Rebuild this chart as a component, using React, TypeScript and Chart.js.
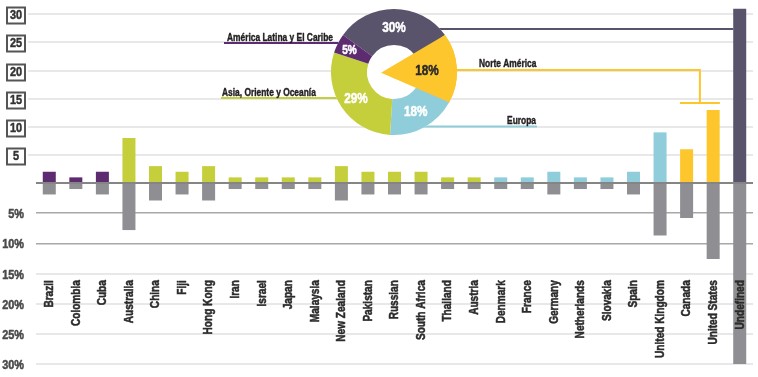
import React, { useEffect, useRef } from 'react';
import { Chart, registerables } from 'chart.js';

Chart.register(...registerables);

// ---------- data ----------
const categories = [
  'Brazil', 'Colombia', 'Cuba', 'Australia', 'China', 'Fiji', 'Hong Kong', 'Iran', 'Israel', 'Japan',
  'Malaysia', 'New Zealand', 'Pakistan', 'Russian', 'South Africa', 'Thailand', 'Austria', 'Denmark',
  'France', 'Germany', 'Netherlands', 'Slovakia', 'Spain', 'United Kingdom', 'Canada', 'United States', 'Undefined',
];
const categoryRegion = [
  'latam', 'latam', 'latam', 'asia', 'asia', 'asia', 'asia', 'asia', 'asia', 'asia',
  'asia', 'asia', 'asia', 'asia', 'asia', 'asia', 'asia', 'europe',
  'europe', 'europe', 'europe', 'europe', 'europe', 'europe', 'na', 'na', 'undef',
];
const countValues = [2, 1, 2, 8, 3, 2, 3, 1, 1, 1, 1, 3, 2, 2, 2, 1, 1, 1, 1, 2, 1, 1, 2, 9, 6, 13, 31];
const percentValues = [1.9, 1.0, 1.9, 7.8, 2.9, 1.9, 2.9, 1.0, 1.0, 1.0, 1.0, 2.9, 1.9, 1.9, 1.9, 1.0, 1.0, 1.0, 1.0, 1.9, 1.0, 1.0, 1.9, 8.7, 5.8, 12.6, 30.1];
const topTickValues = [0, 5, 10, 15, 20, 25, 30];
const bottomTickValues = [5, 10, 15, 20, 25, 30];

const donutRegions = ['undef', 'na', 'europe', 'asia', 'latam'];
const donutLabels = ['Undefined', 'Norte América', 'Europa', 'Asia, Oriente y Oceanía', 'América Latina y El Caribe'];
const donutShares = [30, 18, 18, 29, 5];

// ---------- styles ----------
const COLORS: Record<string, string> = {
  latam: '#5c2b70',
  asia: '#c5cf3b',
  europe: '#8fcdda',
  na: '#fdc62d',
  undef: '#59536c',
};
const GRAY = '#8f8f93';
const FONT = "'Liberation Sans', Arial, sans-serif";
const SQUEEZE = 0.84;
const DONUT_LEFT = 324;
const DONUT_TOP = 2;
const DONUT_SIZE = 140;
const DONUT_CX = DONUT_LEFT + DONUT_SIZE / 2;
const labelRadii = [45, 33, 45, 46, 50];
const labelColors = ['#ffffff', '#2a2a2a', '#ffffff', '#ffffff', '#ffffff'];

function narrowText(
  ctx: CanvasRenderingContext2D,
  text: string,
  x: number,
  y: number,
  size: number,
  color: string,
  align: CanvasTextAlign,
  baseline: CanvasTextBaseline,
  rotate = false,
  heavy = 0.5,
) {
  ctx.save();
  ctx.translate(x, y);
  if (rotate) ctx.rotate(-Math.PI / 2);
  ctx.scale(SQUEEZE, 1);
  ctx.font = `bold ${size}px ${FONT}`;
  ctx.fillStyle = color;
  ctx.strokeStyle = color;
  ctx.lineWidth = heavy;
  ctx.lineJoin = 'round';
  ctx.textAlign = align;
  ctx.textBaseline = baseline;
  ctx.fillText(text, 0, 0);
  if (heavy > 0) ctx.strokeText(text, 0, 0);
  ctx.restore();
}

const overlayPlugin = {
  id: 'overlay',
  afterDraw(chart: any) {
    const ctx = chart.ctx as CanvasRenderingContext2D;
    const { chartArea } = chart;
    const yTop = chart.scales.yTop;
    const yBot = chart.scales.yBot;
    const xs = chart.scales.x;
    const zeroY = yTop.getPixelForValue(0);
    ctx.save();
    // zero line
    ctx.strokeStyle = '#858585';
    ctx.lineWidth = 2;
    ctx.beginPath();
    ctx.moveTo(chartArea.left, zeroY);
    ctx.lineTo(chartArea.right, zeroY);
    ctx.stroke();

    // top tick labels in boxes
    topTickValues.forEach((v) => {
      if (v === 0) return;
      const y = Math.round(yTop.getPixelForValue(v));
      ctx.strokeStyle = '#555555';
      ctx.lineWidth = 2;
      ctx.strokeRect(7, y - 6.5, 18, 16);
      narrowText(ctx, String(v), 16, y + 1.5, 13, '#333333', 'center', 'middle');
    });
    // bottom tick labels
    bottomTickValues.forEach((v) => {
      const y = Math.round(yBot.getPixelForValue(v));
      narrowText(ctx, `${v}%`, 24, y + 1, 13, '#4a4a4a', 'right', 'middle');
    });
    // category labels
    const labelTop = yBot.getPixelForValue(16.1);
    categories.forEach((c, i) => {
      narrowText(ctx, c, xs.getPixelForValue(i) + 0.5, labelTop, 12, '#2b2b2b', 'right', 'middle', true);
    });

    // leader lines & region labels
    const meta = chart.getDatasetMeta(0);
    const undefBar = meta.data[categories.indexOf('Undefined')];
    const canBar = meta.data[categories.indexOf('Canada')];
    const usBar = meta.data[categories.indexOf('United States')];
    ctx.lineWidth = 2;
    ctx.strokeStyle = COLORS.undef;
    ctx.beginPath();
    ctx.moveTo(DONUT_CX, 29);
    ctx.lineTo(undefBar.x - undefBar.width / 2, 29);
    ctx.stroke();
    ctx.strokeStyle = COLORS.latam;
    ctx.beginPath();
    ctx.moveTo(224, 43);
    ctx.lineTo(360, 43);
    ctx.stroke();
    ctx.strokeStyle = COLORS.asia;
    ctx.beginPath();
    ctx.moveTo(221, 98);
    ctx.lineTo(355, 98);
    ctx.stroke();
    const bx = (canBar.x + usBar.x) / 2;
    ctx.strokeStyle = COLORS.na;
    ctx.beginPath();
    ctx.moveTo(440, 70);
    ctx.lineTo(bx, 70);
    ctx.lineTo(bx, 103);
    ctx.moveTo(bx - 20, 103);
    ctx.lineTo(bx + 20, 103);
    ctx.stroke();
    ctx.strokeStyle = COLORS.europe;
    ctx.beginPath();
    ctx.moveTo(410, 126.5);
    ctx.lineTo(537, 126.5);
    ctx.stroke();

    narrowText(ctx, donutLabels[4], 227, 40.5, 10, '#231f20', 'left', 'alphabetic', false, 0.4);
    narrowText(ctx, donutLabels[3], 222, 95.5, 10, '#231f20', 'left', 'alphabetic', false, 0.4);
    narrowText(ctx, donutLabels[1], 479, 66.5, 10, '#231f20', 'left', 'alphabetic', false, 0.4);
    narrowText(ctx, donutLabels[2], 536, 123.5, 10, '#231f20', 'right', 'alphabetic', false, 0.4);
    ctx.restore();
  },
};

const donutPlugin = {
  id: 'donutExtras',
  beforeDatasetsDraw(chart: any) {
    const el = chart.getDatasetMeta(0).data[0];
    const ctx = chart.ctx;
    ctx.save();
    ctx.fillStyle = '#ffffff';
    ctx.beginPath();
    ctx.arc(el.x, el.y, el.outerRadius, 0, Math.PI * 2);
    ctx.fill();
    ctx.restore();
  },
  afterDatasetsDraw(chart: any) {
    const ctx = chart.ctx as CanvasRenderingContext2D;
    const data = chart.getDatasetMeta(0).data;
    const na = data[donutRegions.indexOf('na')];
    const mid = (na.startAngle + na.endAngle) / 2;
    ctx.save();
    ctx.fillStyle = COLORS.na;
    ctx.beginPath();
    ctx.moveTo(na.x - 13 * Math.cos(mid), na.y - 13 * Math.sin(mid));
    ctx.arc(na.x, na.y, na.outerRadius, na.startAngle, na.endAngle);
    ctx.closePath();
    ctx.fill();
    data.forEach((e: any, i: number) => {
      const m = (e.startAngle + e.endAngle) / 2;
      const r = labelRadii[i];
      narrowText(
        ctx,
        `${donutShares[i]}%`,
        e.x + r * Math.cos(m),
        e.y + r * Math.sin(m) + 1,
        donutShares[i] < 10 ? 12 : 14,
        labelColors[i],
        'center',
        'middle',
      );
    });
    ctx.restore();
  },
};

export default function App() {
  const barRef = useRef<HTMLCanvasElement>(null);
  const donutRef = useRef<HTMLCanvasElement>(null);

  useEffect(() => {
    document.body.style.margin = '0';
    const bar = new Chart(barRef.current!, {
      type: 'bar',
      data: {
        labels: categories,
        datasets: [
          {
            data: countValues,
            yAxisID: 'yTop',
            backgroundColor: categoryRegion.map((r) => COLORS[r]),
            grouped: false,
            barPercentage: 0.49,
            categoryPercentage: 1,
          } as any,
          {
            data: percentValues,
            yAxisID: 'yBot',
            backgroundColor: GRAY,
            grouped: false,
            barPercentage: 0.49,
            categoryPercentage: 1,
          } as any,
        ],
      },
      options: {
        responsive: false,
        animation: false,
        layout: { padding: { top: 3, bottom: 13, left: 0, right: 5 }, autoPadding: false } as any,
        plugins: { legend: { display: false }, tooltip: { enabled: false } },
        scales: {
          x: {
            type: 'category',
            position: { yBot: 15 } as any,
            grid: { display: false },
            border: { display: false },
            ticks: { display: false, autoSkip: false },
            afterFit: (s: any) => { s.paddingLeft = 0; s.paddingRight = 0; },
          } as any,
          yTop: {
            type: 'linear',
            axis: 'y',
            position: 'left',
            stack: 'y',
            stackWeight: 180,
            weight: 1,
            min: 0,
            max: 32,
            afterBuildTicks: (s: any) => { s.ticks = topTickValues.map((v) => ({ value: v })); },
            ticks: { display: false, autoSkip: false },
            grid: {
              color: (c: any) => (c.tick && c.tick.value === 0 ? 'rgba(0,0,0,0)' : '#e8e8e8'),
              lineWidth: 2,
              drawTicks: true,
              tickLength: 8,
            },
            border: { display: false },
            afterFit: (s: any) => { s.width = 36; s.paddingTop = 0; s.paddingBottom = 0; },
          } as any,
          yBot: {
            type: 'linear',
            axis: 'y',
            position: 'left',
            stack: 'y',
            stackWeight: 181,
            weight: 0,
            reverse: true,
            min: 0,
            max: 30,
            afterBuildTicks: (s: any) => { s.ticks = bottomTickValues.map((v) => ({ value: v })); },
            ticks: { display: false, autoSkip: false },
            grid: {
              color: (c: any) => (c.tick && c.tick.value <= 10 ? '#a8a8a8' : '#e8e8e8'),
              lineWidth: (c: any) => (c.tick && c.tick.value <= 10 ? 1.5 : 2),
              drawTicks: false,
            },
            border: { display: false },
            afterFit: (s: any) => { s.width = 36; s.paddingTop = 0; s.paddingBottom = 0; },
          } as any,
        },
      },
      plugins: [overlayPlugin],
    });

    const donut = new Chart(donutRef.current!, {
      type: 'doughnut',
      data: {
        labels: donutLabels,
        datasets: [
          {
            data: donutShares,
            backgroundColor: donutRegions.map((r) => COLORS[r]),
            borderWidth: 0,
          },
        ],
      },
      options: {
        responsive: false,
        animation: false,
        rotation: -54,
        radius: 63,
        cutout: 30,
        layout: { padding: 0 },
        plugins: { legend: { display: false }, tooltip: { enabled: false } },
      } as any,
      plugins: [donutPlugin],
    });

    return () => {
      bar.destroy();
      donut.destroy();
    };
  }, []);

  return (
    <div style={{ position: 'relative', width: 758, height: 377, background: '#ffffff' }}>
      <canvas ref={barRef} width={758} height={377} style={{ position: 'absolute', left: 0, top: 0, width: 758, height: 377 }} />
      <canvas
        ref={donutRef}
        width={DONUT_SIZE}
        height={DONUT_SIZE}
        style={{ position: 'absolute', left: DONUT_LEFT, top: DONUT_TOP, width: DONUT_SIZE, height: DONUT_SIZE }}
      />
    </div>
  );
}
